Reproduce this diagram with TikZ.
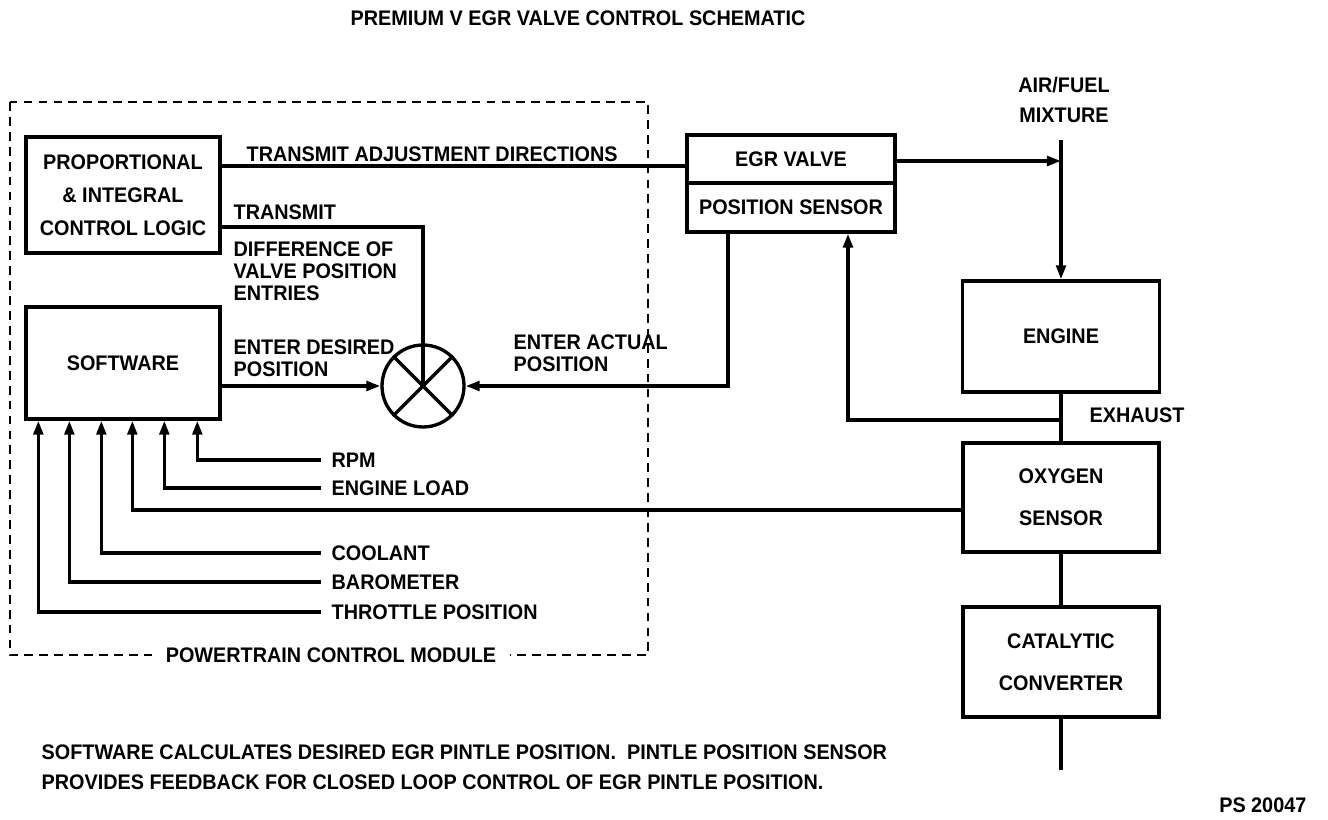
\documentclass[tikz,border=0pt]{standalone}
\usepackage{fontspec}
\setmainfont{Liberation Sans}[FakeStretch=0.94]
\usetikzlibrary{arrows.meta,positioning}

\begin{document}
\begin{tikzpicture}[x=0.02cm, y=-0.02cm, line width=1.9pt,
    font=\fontsize{12}{12.5}\selectfont\bfseries,
    >={Triangle[length=8pt,width=5.5pt]},
    blk/.style={draw, inner sep=0pt, align=center},
    lbl/.style={inner sep=0pt, anchor=west},
    mlbl/.style={inner sep=0pt, anchor=north west, align=left}]
    \useasboundingbox (0,0) rectangle (1328,820);

    % Title
    \node[inner sep=0pt] (title) at (578,18) {PREMIUM V EGR VALVE CONTROL SCHEMATIC};

    % Powertrain control module
    \draw[line width=1.3pt, dash pattern=on 5pt off 3.5pt] (10,102) rectangle (648,655);
    \node[fill=white, inner ysep=1pt, inner xsep=8pt] (pcm) at (331,655) {POWERTRAIN CONTROL MODULE};

    % Blocks
    \node[blk, minimum width=3.88cm, minimum height=2.32cm, font=\fontsize{12}{18.7}\selectfont\bfseries]
        (pi) at (123,195) {PROPORTIONAL\\\& INTEGRAL\\CONTROL LOGIC};
    \node[blk, minimum width=3.88cm, minimum height=2.24cm] (sw) at (123,363) {SOFTWARE};
    \node[draw, circle, minimum size=1.64cm, inner sep=0pt] (sum) at (423,386) {};
    \draw (sum.north west) -- (sum.south east);
    \draw (sum.north east) -- (sum.south west);
    \node[blk, minimum width=4.16cm, minimum height=0.96cm] (egr) at (791,159) {EGR VALVE};
    \node[blk, minimum width=4.16cm, minimum height=0.98cm] (pos) at (791,207.5) {POSITION SENSOR};
    \node[blk, minimum width=3.94cm, minimum height=2.22cm] (eng) at (1061,336.5) {ENGINE};
    \node[blk, minimum width=3.92cm, minimum height=2.18cm, font=\fontsize{12}{24}\selectfont\bfseries]
        (oxy) at (1061,497.5) {OXYGEN\\SENSOR};
    \node[blk, minimum width=3.92cm, minimum height=2.2cm, font=\fontsize{12}{24}\selectfont\bfseries]
        (cat) at (1061,662) {CATALYTIC\\CONVERTER};

    % Labels
    \node[lbl] (adj) at (245,154) {TRANSMIT ADJUSTMENT DIRECTIONS};
    \node[lbl] (trans) at (232,212) {TRANSMIT};
    \node[mlbl] (diff) at (232,240) {DIFFERENCE OF\\VALVE POSITION\\ENTRIES};
    \node[mlbl] (des) at (232,338) {ENTER DESIRED\\POSITION};
    \node[mlbl] (act) at (512,333) {ENTER ACTUAL\\POSITION};
    \node[inner sep=0pt, align=center, font=\fontsize{12}{17.6}\selectfont\bfseries]
        (air) at (1064,100) {AIR/FUEL\\MIXTURE};
    \node[lbl] (exhlbl) at (1088,415) {EXHAUST};

    % Control loop
    \draw ([yshift=-0.14cm]pi.east |- egr.west) -- ([yshift=-0.14cm]egr.west);
    \draw ([yshift=-0.64cm]pi.east) -| (sum.center);
    \draw[->] (sw.east |- sum.west) -- (sum.west);
    \draw[->] ([xshift=-1.26cm]pos.south) |- (sum.east);

    % Engine path
    \coordinate (mixtop) at (1061,140);
    \coordinate (mix) at (1061,161);
    \coordinate (exh) at (1061,420);
    \coordinate (tail) at (1061,770);
    \draw[->] (egr.east |- mix) -- (mix);
    \draw[->] (mixtop) -- (eng.north);
    \draw (eng.south) -- (oxy.north);
    \draw[->] (exh) -| ([xshift=1.14cm]pos.south);
    \draw (oxy.south) -- (cat.north);
    \draw (cat.south) -- (tail);

    % Software inputs
    \foreach \n/\dx/\yy/\txt in {rpm/3.46/460/RPM, load/2.8/488/ENGINE LOAD,
        cool/1.54/553/COOLANT, baro/0.9/582/BAROMETER, thr/0.28/612/THROTTLE POSITION} {
        \node[lbl] (\n) at (330,\yy) {\txt};
        \draw[->] ([xshift=-5pt]\n.west) -| ([xshift=\dx cm]sw.south west);
    }
    \draw[->] ([yshift=-0.25cm]oxy.west) -| ([xshift=2.16cm]sw.south west);

    % Notes
    \node[mlbl, font=\fontsize{12}{17}\selectfont\bfseries] (note) at (40,743)
        {SOFTWARE CALCULATES DESIRED EGR PINTLE POSITION.\ \ PINTLE POSITION SENSOR\\
         PROVIDES FEEDBACK FOR CLOSED LOOP CONTROL OF EGR PINTLE POSITION.};
    \node[inner sep=0pt, anchor=east] (ps) at (1308,805) {PS 20047};
\end{tikzpicture}
\end{document}
